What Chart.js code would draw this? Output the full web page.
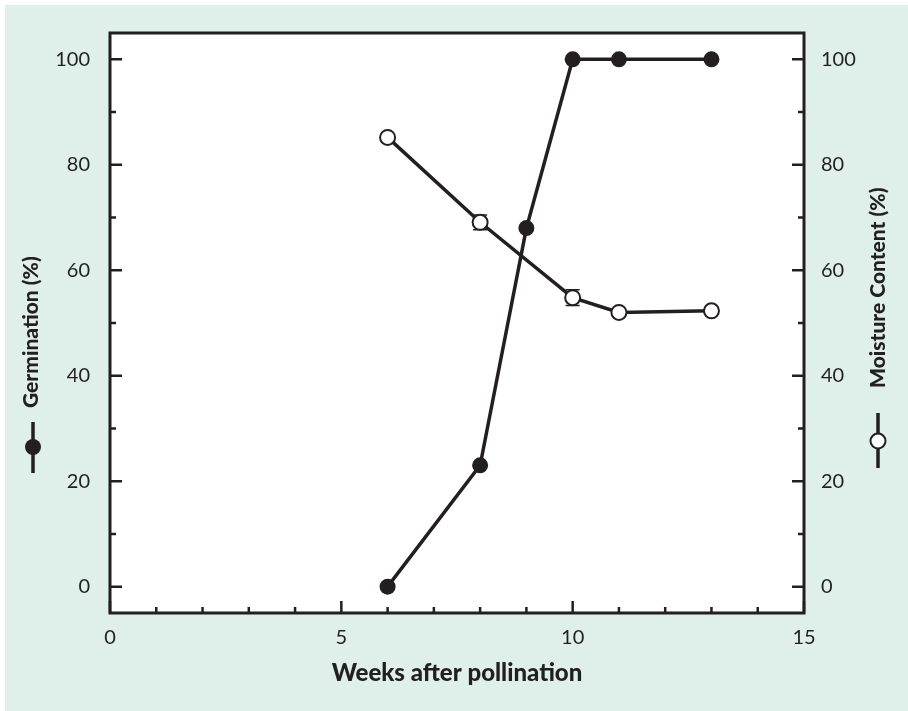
<!DOCTYPE html>
<html>
<head>
<meta charset="utf-8">
<script src="https://cdn.jsdelivr.net/npm/chart.js@4.4.1/dist/chart.umd.min.js"></script>
<style>
  html, body { margin: 0; padding: 0; background: #fff; }
</style>
</head>
<body>
<canvas id="chart" width="908" height="711"></canvas>
<script>
// data
const weeksGerm = [6, 8, 9, 10, 11, 13];
const germination = [0, 23, 68, 100, 100, 100];
const weeksMoist = [6, 8, 10, 11, 13];
const moisture = [85.2, 69.1, 54.8, 52, 52.3];
const moistureErr = [0, 1.4, 1.5, 0, 0];
const xTicks = [0, 5, 10, 15];
const xMinor = [1, 2, 3, 4, 6, 7, 8, 9, 11, 12, 13, 14];
const yTicks = [0, 20, 40, 60, 80, 100];
const yMinor = [10, 30, 50, 70, 90];

const ink = "#231f20";
const mint = "#dfefe9";
const tickFont = { family: "Lato", size: 20 };

const framePlugin = {
  id: "frame",
  beforeDraw(chart) {
    const { ctx, chartArea: a } = chart;
    ctx.save();
    ctx.fillStyle = "#fff";
    ctx.fillRect(0, 0, chart.width, chart.height);
    ctx.fillStyle = mint;
    ctx.fillRect(5, 5, chart.width - 5, chart.height - 5);
    ctx.fillStyle = "#fff";
    ctx.fillRect(a.left, a.top, a.right - a.left, a.bottom - a.top);
    ctx.restore();
  },
  beforeDatasetsDraw(chart) {
    // error bars on moisture content
    const { ctx } = chart;
    const xs = chart.scales.x, ys = chart.scales.y2;
    ctx.save();
    ctx.strokeStyle = ink;
    ctx.lineWidth = 1.5;
    weeksMoist.forEach((w, i) => {
      const e = moistureErr[i];
      if (!e) return;
      const px = xs.getPixelForValue(w);
      const lo = ys.getPixelForValue(moisture[i] - e);
      const hi = ys.getPixelForValue(moisture[i] + e);
      ctx.beginPath();
      ctx.moveTo(px, lo); ctx.lineTo(px, hi);
      ctx.moveTo(px - 7, lo); ctx.lineTo(px + 7, lo);
      ctx.moveTo(px - 7, hi); ctx.lineTo(px + 7, hi);
      ctx.stroke();
    });
    ctx.restore();
  },
  afterDraw(chart) {
    const { ctx, chartArea: a } = chart;
    const xs = chart.scales.x, yl = chart.scales.y, yr = chart.scales.y2;
    ctx.save();
    ctx.strokeStyle = ink;
    ctx.lineWidth = 3;
    ctx.strokeRect(a.left, a.top, a.right - a.left, a.bottom - a.top);

    // inward tick marks
    ctx.lineWidth = 2.5;
    ctx.beginPath();
    xTicks.forEach(v => {
      const p = xs.getPixelForValue(v);
      ctx.moveTo(p, a.bottom); ctx.lineTo(p, a.bottom - 12);
    });
    xMinor.forEach(v => {
      const p = xs.getPixelForValue(v);
      ctx.moveTo(p, a.bottom); ctx.lineTo(p, a.bottom - 6);
    });
    yTicks.forEach(v => {
      const p = yl.getPixelForValue(v);
      ctx.moveTo(a.left, p); ctx.lineTo(a.left + 12, p);
      const q = yr.getPixelForValue(v);
      ctx.moveTo(a.right, q); ctx.lineTo(a.right - 12, q);
    });
    yMinor.forEach(v => {
      const p = yl.getPixelForValue(v);
      ctx.moveTo(a.left, p); ctx.lineTo(a.left + 6, p);
      const q = yr.getPixelForValue(v);
      ctx.moveTo(a.right, q); ctx.lineTo(a.right - 6, q);
    });
    ctx.stroke();

    // axis titles
    ctx.fillStyle = ink;
    ctx.font = "900 24px Lato";
    ctx.textAlign = "center";
    ctx.textBaseline = "middle";
    ctx.fillText("Weeks after pollination", (a.left + a.right) / 2, 673);

    ctx.font = "900 21px Lato";
    ctx.textAlign = "left";
    ctx.save();
    ctx.translate(31, 408);
    ctx.rotate(-Math.PI / 2);
    ctx.fillText("Germination (%)", 0, 0);
    ctx.restore();
    ctx.save();
    ctx.translate(878, 388);
    ctx.rotate(-Math.PI / 2);
    ctx.fillText("Moisture Content (%)", 0, 0);
    ctx.restore();

    // series keys beside the titles
    ctx.lineWidth = 3.5;
    ctx.beginPath();
    ctx.moveTo(33, 422); ctx.lineTo(33, 473);
    ctx.moveTo(878, 413); ctx.lineTo(878, 468);
    ctx.stroke();
    ctx.beginPath();
    ctx.arc(33, 447, 8, 0, Math.PI * 2);
    ctx.fill();
    ctx.beginPath();
    ctx.arc(878, 441, 7.5, 0, Math.PI * 2);
    ctx.fillStyle = "#fff";
    ctx.fill();
    ctx.lineWidth = 2;
    ctx.stroke();
    ctx.restore();
  }
};

const yScale = (position, width, padding) => ({
  type: "linear",
  position: position,
  min: -5,
  max: 105,
  afterBuildTicks: s => { s.ticks = yTicks.map(v => ({ value: v })); },
  afterFit: s => { s.width = width; },
  grid: { display: false, drawTicks: false },
  border: { display: false },
  ticks: { color: ink, font: tickFont, padding: padding }
});

new Chart(document.getElementById("chart"), {
  type: "line",
  data: {
    datasets: [
      {
        label: "Germination (%)",
        data: weeksGerm.map((w, i) => ({ x: w, y: germination[i] })),
        yAxisID: "y",
        borderColor: ink,
        borderWidth: 3.5,
        pointRadius: 8,
        pointBackgroundColor: ink,
        pointBorderWidth: 0,
        tension: 0
      },
      {
        label: "Moisture Content (%)",
        data: weeksMoist.map((w, i) => ({ x: w, y: moisture[i] })),
        yAxisID: "y2",
        borderColor: ink,
        borderWidth: 3.5,
        pointRadius: 7.5,
        pointBackgroundColor: "#fff",
        pointBorderColor: ink,
        pointBorderWidth: 2,
        tension: 0
      }
    ]
  },
  options: {
    responsive: false,
    animation: false,
    layout: { padding: { left: 0, right: 0, top: 33, bottom: 0 } },
    plugins: { legend: { display: false }, tooltip: { enabled: false } },
    scales: {
      x: {
        type: "linear",
        min: 0,
        max: 15,
        afterBuildTicks: s => { s.ticks = xTicks.map(v => ({ value: v })); },
        afterFit: s => { s.height = 98; },
        grid: { display: false, drawTicks: false },
        border: { display: false },
        ticks: { color: ink, font: tickFont, padding: 13 }
      },
      y: yScale("left", 110, 20),
      y2: yScale("right", 104, 17)
    }
  },
  plugins: [framePlugin]
});
</script>
</body>
</html>
